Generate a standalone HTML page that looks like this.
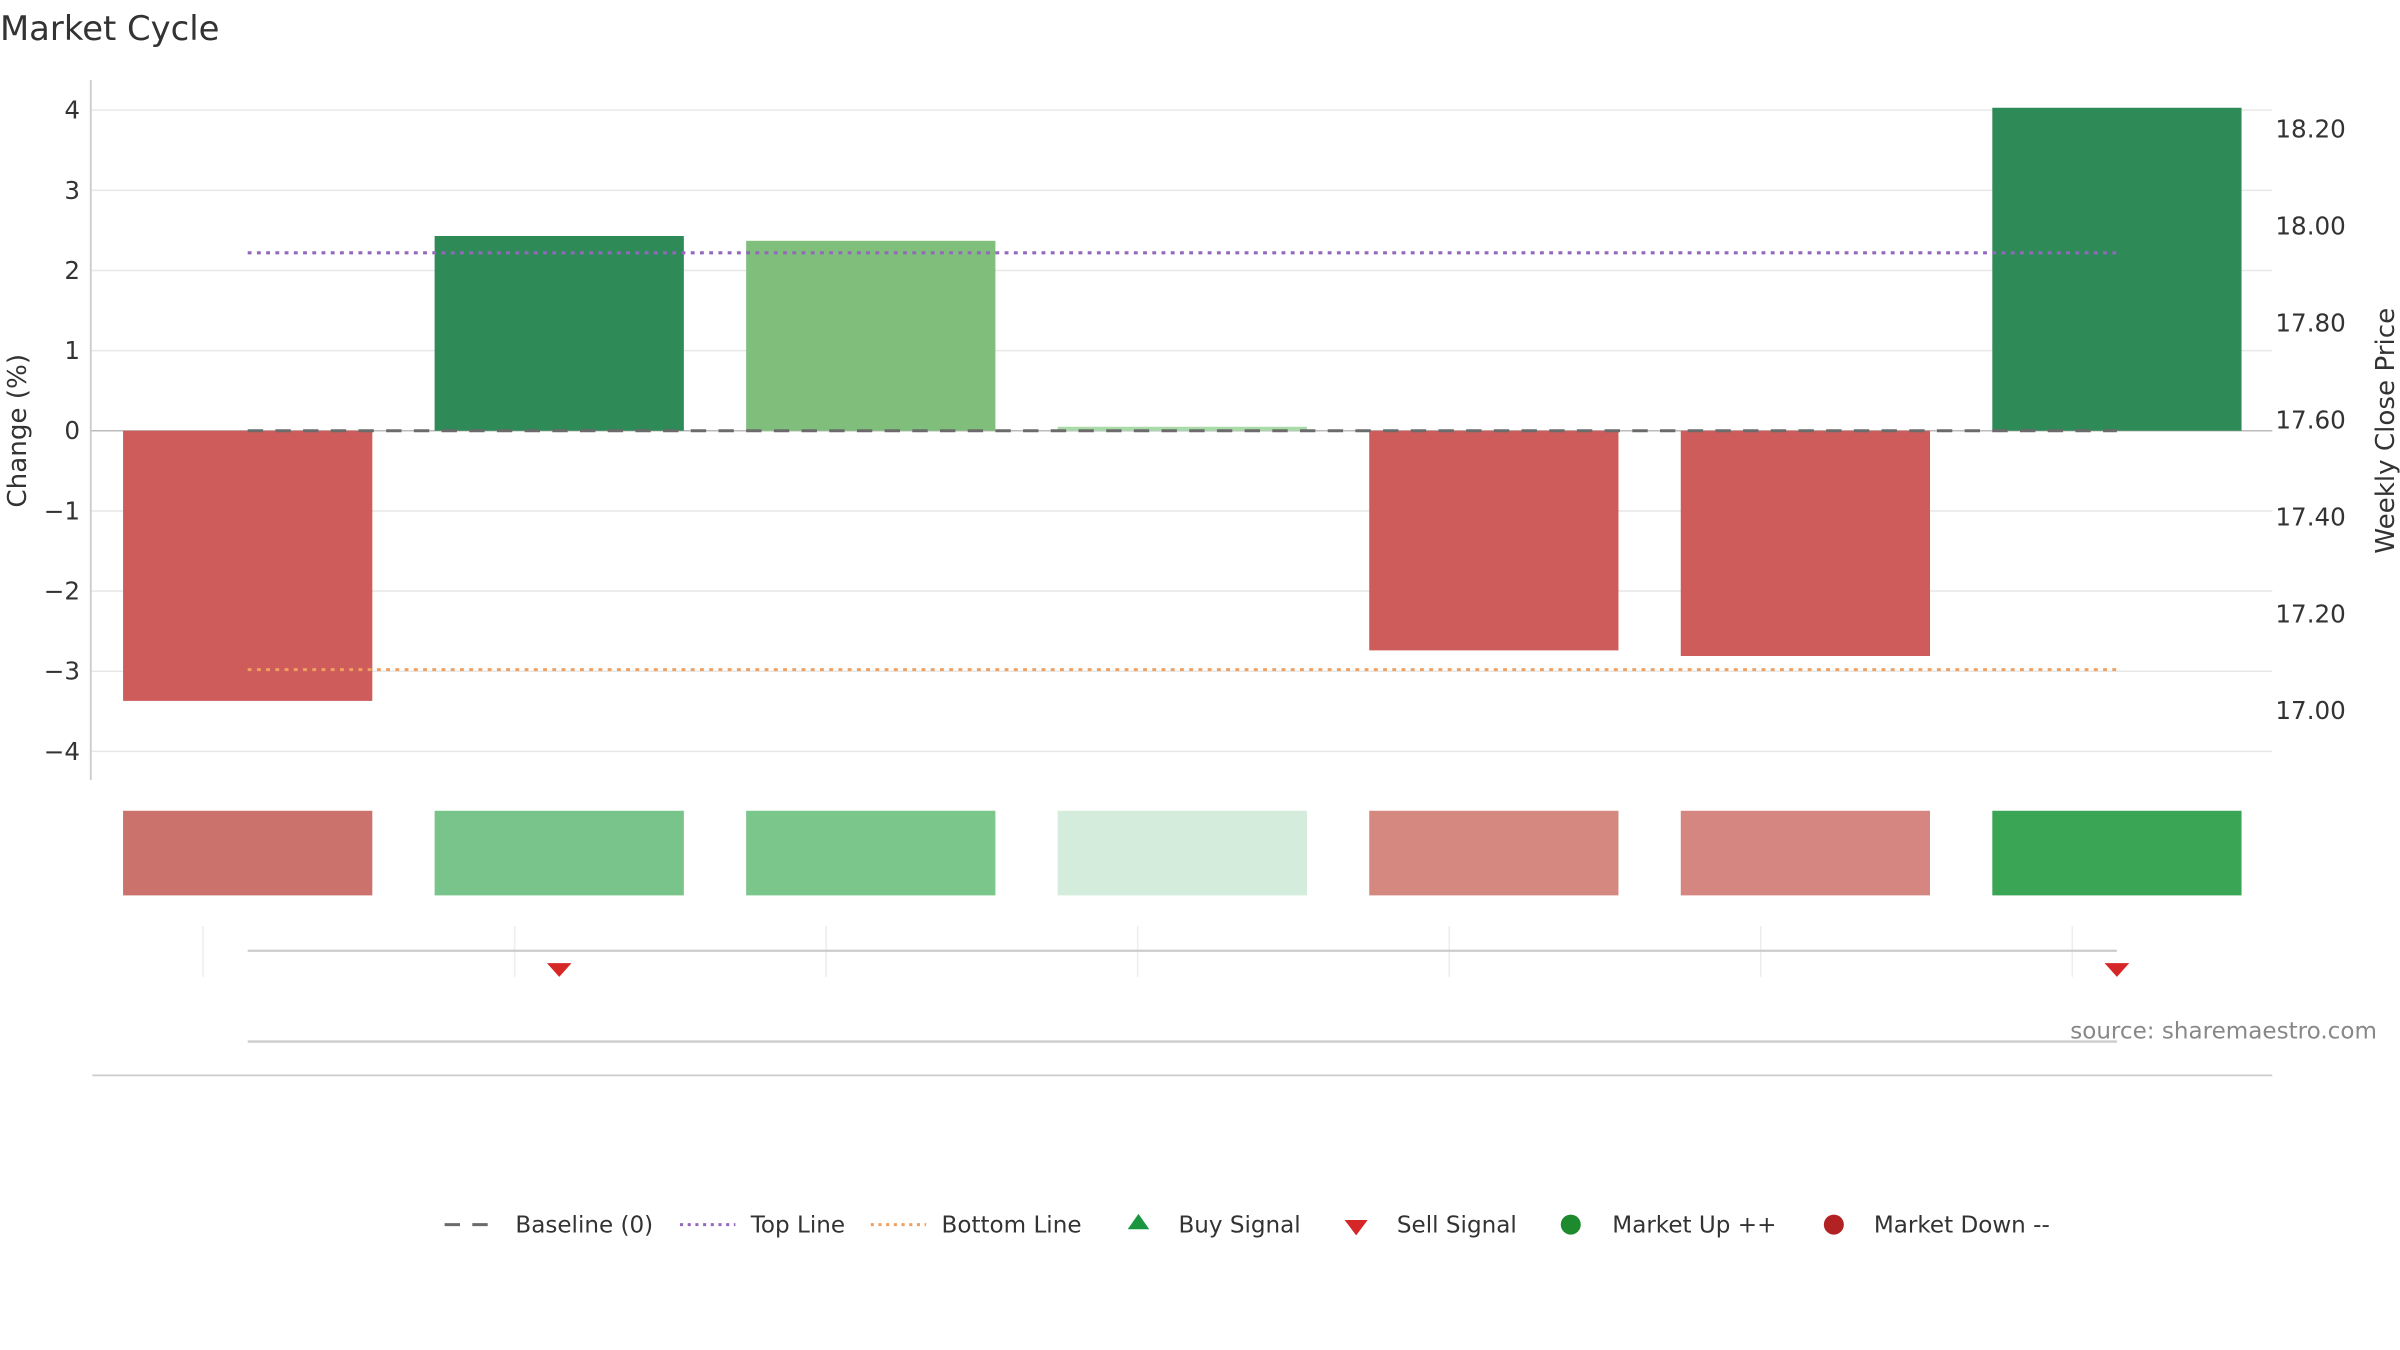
<!DOCTYPE html>
<html><head><meta charset="utf-8"><style>
html,body{margin:0;padding:0;background:#fff;}
svg{display:block;font-family:"DejaVu Sans","Liberation Sans",sans-serif;}
</style></head><body>
<svg id="chart" width="2400" height="1350" viewBox="0 0 1560 877.5" xmlns="http://www.w3.org/2000/svg">
<text x="0" y="26" font-size="22" fill="#333">Market Cycle</text>
<g id="grid"></g>
<g id="bars"></g>
<g id="lines"></g>
<g id="heat"></g>
<g id="signals"></g>
<line x1="59" y1="52" x2="59" y2="507" stroke="#ccc" stroke-width="1.2"/>
<text transform="translate(17,280) rotate(-90)" text-anchor="middle" font-size="17" fill="#333">Change (%)</text>
<text transform="translate(1556,280) rotate(-90)" text-anchor="middle" font-size="17" fill="#333">Weekly Close Price</text>
<line x1="161" y1="618" x2="1376" y2="618" stroke="#ccc" stroke-width="1.5"/>
<line x1="161" y1="677" x2="1376" y2="677" stroke="#ccc" stroke-width="1.5"/>
<line x1="60" y1="699" x2="1477" y2="699" stroke="#ccc" stroke-width="1.2"/>
<text x="1545" y="675" text-anchor="end" font-size="15" fill="#888">source: sharemaestro.com</text>
<g font-size="15" fill="#333">
 <g><line x1="289" y1="796" x2="325" y2="796" stroke="#6b6b6b" stroke-width="2" stroke-dasharray="10,8"/><text x="335" y="801">Baseline (0)</text></g>
 <g><line x1="442" y1="796" x2="478" y2="796" stroke="#9467bd" stroke-width="2" stroke-dasharray="2,3"/><text x="488" y="801">Top Line</text></g>
 <g><line x1="566" y1="796" x2="602" y2="796" stroke="#f0a060" stroke-width="2" stroke-dasharray="2,3"/><text x="612" y="801">Bottom Line</text></g>
 <g><polygon points="740,789 747,799 733,799" fill="#1a9641"/><text x="766" y="801">Buy Signal</text></g>
 <g><polygon points="874,793 889,793 881.5,803" fill="#d62728"/><text x="908" y="801">Sell Signal</text></g>
 <g><circle cx="1021" cy="796" r="6.5" fill="#1e8a2e"/><text x="1048" y="801">Market Up ++</text></g>
 <g><circle cx="1192" cy="796" r="6.5" fill="#b22222"/><text x="1218" y="801">Market Down --</text></g>
</g>
</svg>
<script>
const categories = ["W1","W2","W3","W4","W5","W6","W7"];
const changes = [-3.37, 2.43, 2.37, 0.05, -2.74, -2.81, 4.03];
const barColors = ["#cd5c5a","#2e8b57","#7fbf7b","#a8dba8","#cd5c5a","#cd5c5a","#2e8b57"];
const heatColors = ["#cc726c","#78c48a","#7ac68b","#d3ecdc","#d58880","#d58680","#3aa655"];
const leftTicks = [4,3,2,1,0,-1,-2,-3,-4];
const rightTicks = [18.20,18.00,17.80,17.60,17.40,17.20,17.00];
const topLine = 2.22;
const bottomLine = -2.98;
const sellSignals = [1, 6];
const NS = "http://www.w3.org/2000/svg";
function y(v){ return 280 - v*52.1; }
function y2(p){ return 273 - (p-17.6)*315; }
function xc(i){ return 161 + i*202.5; }
const bw = 162;
function mk(tag, attrs, parent){ const e=document.createElementNS(NS,tag); for(const k in attrs) e.setAttribute(k,attrs[k]); parent.appendChild(e); return e; }
const grid=document.getElementById('grid');
leftTicks.forEach(t=>{
  const l=mk('line',{x1:59,x2:1477,y1:y(t),y2:y(t),stroke:t===0?'#bbb':'#e8e8e8','stroke-width':1},grid);
  
  
  const tx=mk('text',{x:52,y:y(t)+5.5,'text-anchor':'end','font-size':16,fill:'#333'},grid);
  tx.textContent = t<0 ? '\u2212'+Math.abs(t) : String(t);
  
  
});
rightTicks.forEach(p=>{
  const tx=mk('text',{x:1479,y:y2(p)+5.5,'font-size':16,fill:'#333'},grid);
  tx.textContent = p.toFixed(2);
  
  
});
const bars=document.getElementById('bars');
changes.forEach((v,i)=>{
  const top=Math.min(y(v),y(0)), h=Math.abs(y(v)-y(0));
  const r=mk('rect',{x:xc(i)-bw/2,y:top,width:bw,height:Math.max(h,1),fill:barColors[i]},bars);
  
  
});
const lines=document.getElementById('lines');
const bl=mk('line',{x1:xc(0),x2:xc(6),y1:y(0),y2:y(0),stroke:'#6b6b6b','stroke-width':2,'stroke-dasharray':'10,8'},lines);


const tl=mk('line',{x1:xc(0),x2:xc(6),y1:y(topLine),y2:y(topLine),stroke:'#9467bd','stroke-width':2,'stroke-dasharray':'2.5,3.5'},lines);


const bo=mk('line',{x1:xc(0),x2:xc(6),y1:y(bottomLine),y2:y(bottomLine),stroke:'#f0a060','stroke-width':2,'stroke-dasharray':'2.5,3.5'},lines);


const heat=document.getElementById('heat');
heatColors.forEach((c,i)=>{
  const r=mk('rect',{x:xc(i)-bw/2,y:527,width:bw,height:55,fill:c},heat);
  
  
});
const sig=document.getElementById('signals');
for(let i=0;i<7;i++){
  const l=mk('line',{x1:xc(i)-29,x2:xc(i)-29,y1:602,y2:635,stroke:'#eee','stroke-width':1},sig);
  
  
}
sellSignals.forEach(i=>{
  const p=mk('polygon',{points:`${xc(i)-8},626 ${xc(i)+8},626 ${xc(i)},635`,fill:'#d62728'},sig);
  
  
});
</script>
</body></html>
